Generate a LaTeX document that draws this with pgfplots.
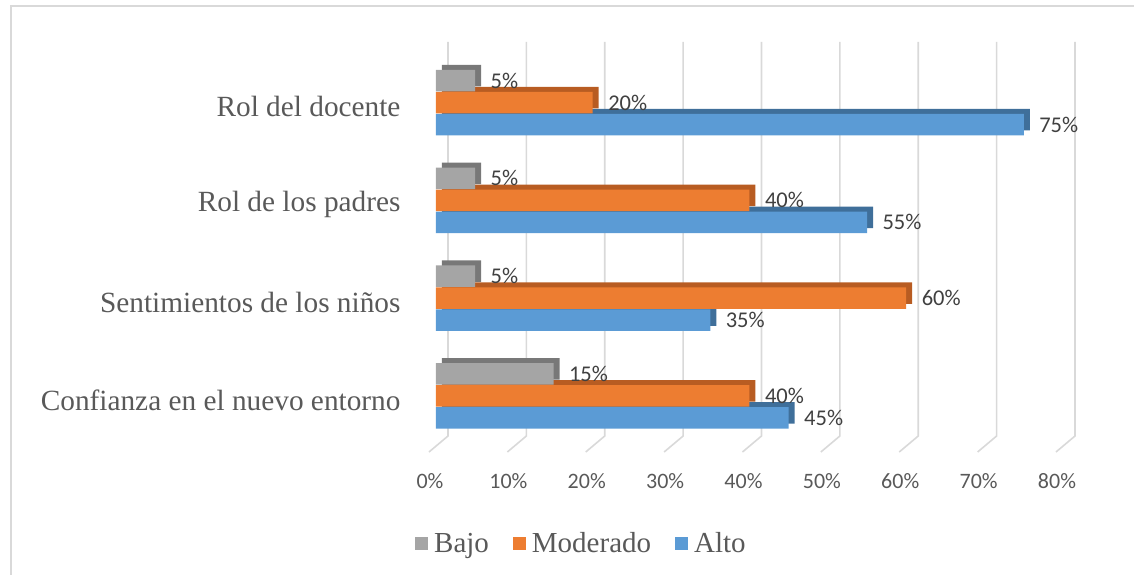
\documentclass[border=0pt]{standalone}
\usepackage{fontspec}
\setmainfont{Liberation Serif}
\newfontfamily\calibri{Carlito}
\usepackage{pgfplots}
\pgfplotsset{compat=1.18}
\definecolor{cgray}{HTML}{A5A5A5}
\definecolor{cgrayD}{HTML}{787878}
\definecolor{corange}{HTML}{ED7D31}
\definecolor{corangeD}{HTML}{B85C22}
\definecolor{cblue}{HTML}{5B9BD5}
\definecolor{cblueD}{HTML}{3F6F9A}
\definecolor{gridc}{HTML}{D9D9D9}
\definecolor{txt}{HTML}{595959}
\definecolor{lbl}{HTML}{404040}
\begin{document}
\begin{tikzpicture}
\path[use as bounding box] (-436pt,-139pt) rectangle (698pt,436pt);
\draw[gridc, line width=1.6pt] (-425pt,-140pt) -- (-425pt,430pt) -- (700pt,430pt);
\begin{axis}[
  at={(0,0)}, anchor=south west,
  scale only axis, width=627pt, height=394pt,
  xmin=0, xmax=80, ymin=-0.41, ymax=3.62,
  clip=false,
  /pgf/number format/assume math mode=true,
  axis line style={draw=none}, tick style={draw=none},
  xtick={0,10,...,80},
  xticklabels={0\%,10\%,20\%,30\%,40\%,50\%,60\%,70\%,80\%},
  xticklabel style={font=\calibri\fontsize{22}{26}\selectfont, text=txt, anchor=north, yshift=-34pt, xshift=-6pt},
  ytick={0,1,2,3},
  yticklabels={Confianza en el nuevo entorno, Sentimientos de los niños, Rol de los padres, Rol del docente},
  yticklabel style={font=\fontsize{29.3}{33}\selectfont, text=txt, anchor=east, xshift=-32pt, yshift=-4pt},
  reverse legend,
  legend style={at={(0.232,-0.272)}, anchor=center, draw=none, legend columns=-1,
    font=\fontsize{29}{33}\selectfont, text=txt,
    /tikz/every even column/.append style={column sep=22pt},
    /tikz/every odd column/.append style={column sep=4pt}},
  legend image code/.code={\fill[#1] (0pt,-6.5pt) rectangle (13pt,6.5pt);},
  front/.style={xbar, bar width=21.5pt, draw=none, point meta=x,
    nodes near coords={\pgfmathprintnumber{\pgfplotspointmeta}\%},
    every node near coord/.append style={font=\calibri\fontsize{22.5}{26}\selectfont, text=lbl, anchor=west, xshift=12pt}},
  back/.style={xbar, bar width=21.5pt, draw=none, forget plot, xshift=6pt, yshift=5pt},
]
\pgfplotsinvokeforeach{0,10,20,30,40,50,60,70,80}{
  \draw[gridc, line width=1.6pt] ([xshift=12pt]axis cs:#1,3.62) -- ([xshift=12pt]axis cs:#1,-0.41) -- ([xshift=-7pt,yshift=-16pt]axis cs:#1,-0.41);
}
% Alto
\addplot[back, bar shift=-22pt, fill=cblueD]
  coordinates {(45,0) (35,1) (55,2) (75,3)};
\addplot[front, bar shift=-22pt, fill=cblue, every node near coord/.append style={yshift=-22pt}]
  coordinates {(45,0) (35,1) (55,2) (75,3)};
% Moderado
\addplot[back, bar shift=0pt, fill=corangeD]
  coordinates {(40,0) (60,1) (40,2) (20,3)};
\addplot[front, bar shift=0pt, fill=corange]
  coordinates {(40,0) (60,1) (40,2) (20,3)};
% Bajo
\addplot[back, bar shift=22pt, fill=cgrayD]
  coordinates {(15,0) (5,1) (5,2) (5,3)};
\addplot[front, bar shift=22pt, fill=cgray, every node near coord/.append style={yshift=22pt}]
  coordinates {(15,0) (5,1) (5,2) (5,3)};
\legend{Alto, Moderado, Bajo}
\end{axis}
\end{tikzpicture}
\end{document}
